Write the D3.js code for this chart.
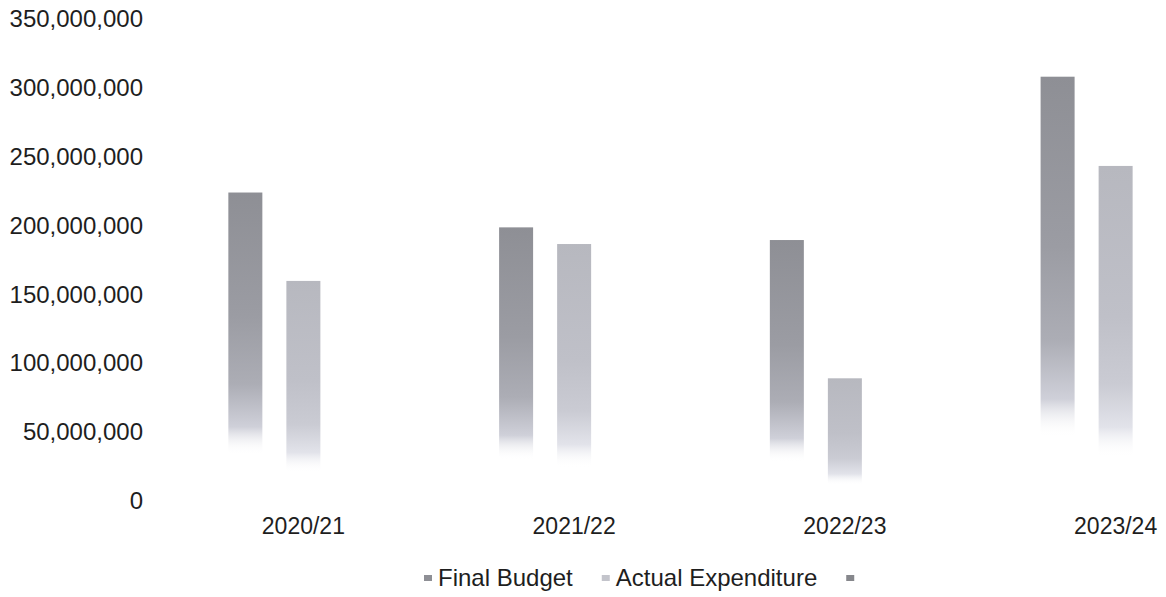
<!DOCTYPE html>
<html>
<head>
<meta charset="utf-8">
<script src="https://cdn.jsdelivr.net/npm/d3@7"></script>
<style>
  html, body { margin: 0; padding: 0; background: #fff; }
  svg { display: block; font-family: "Liberation Sans", Arial, sans-serif; }
</style>
</head>
<body>
<svg id="chart" width="1166" height="597"></svg>
<script>
// Budget vs. spend per financial year
const categories = ["2020/21", "2021/22", "2022/23", "2023/24"];
const seriesNames = ["Final Budget", "Actual Expenditure", ""];
const finalBudget = [224000000, 198700000, 189500000, 308100000];
const actualExpenditure = [159800000, 186600000, 89100000, 243300000];
const thirdSeries = [null, null, null, null];
const yTicks = [0, 50000000, 100000000, 150000000, 200000000, 250000000, 300000000, 350000000];

const seriesValues = [finalBudget, actualExpenditure, thirdSeries];

const svg = d3.select("#chart");

// Scales
const y = d3.scaleLinear().domain([0, 350000000]).range([501, 19]);
const x = d3.scaleBand().domain(categories).range([168, 1251]).paddingInner(0).paddingOuter(0);
const xInner = d3.scaleBand()
  .domain(d3.range(seriesNames.length))
  .range([0, x.bandwidth()])
  .paddingInner(0.414)
  .paddingOuter(1.04);

// Vertical fading fills, one per series
const defs = svg.append("defs");
const fills = [
  { id: "fill-budget", stops: [[0, "#8e8f95", 1], [0.4, "#9b9ca3", 1], [0.62, "#acadb5", 1], [0.76, "#cfd0d9", 1], [0.85, "#ffffff", 0], [1, "#ffffff", 0]] },
  { id: "fill-actual", stops: [[0, "#b7b8bf", 1], [0.45, "#bfc0c8", 1], [0.65, "#cacbd3", 1], [0.78, "#e2e3ea", 1], [0.87, "#ffffff", 0], [1, "#ffffff", 0]] },
  { id: "fill-third", stops: [[0, "#86878c", 1], [1, "#86878c", 1]] }
];
fills.forEach(f => {
  const g = defs.append("linearGradient")
    .attr("id", f.id)
    .attr("x1", 0).attr("y1", 0).attr("x2", 0).attr("y2", 1);
  f.stops.forEach(s => g.append("stop")
    .attr("offset", s[0])
    .attr("stop-color", s[1])
    .attr("stop-opacity", s[2]));
});
const swatchColors = ["#8e8f95", "#c3c4cb", "#86878c"];

// Y axis labels (no axis line, no gridlines)
const yAxis = d3.axisLeft(y)
  .tickValues(yTicks)
  .tickSize(0)
  .tickPadding(0)
  .tickFormat(d3.format(","));
const yG = svg.append("g")
  .attr("transform", "translate(143,0)")
  .call(yAxis);
yG.select(".domain").remove();
yG.selectAll("text")
  .attr("font-size", 24)
  .attr("fill", "#1e1e1e")
  .style("font-family", "'Liberation Sans', Arial, sans-serif");

// Category labels
const xAxis = d3.axisBottom(x).tickSize(0).tickPadding(0);
const xG = svg.append("g")
  .attr("transform", "translate(0,518)")
  .call(xAxis);
xG.select(".domain").remove();
xG.selectAll("text")
  .attr("font-size", 23)
  .attr("fill", "#1e1e1e")
  .style("font-family", "'Liberation Sans', Arial, sans-serif");

// Bars
const rows = [];
categories.forEach((c, i) => {
  seriesValues.forEach((vals, s) => {
    if (vals[i] != null) rows.push({ cat: c, s, v: vals[i] });
  });
});
svg.append("g").selectAll("rect")
  .data(rows)
  .join("rect")
  .attr("x", d => x(d.cat) + xInner(d.s))
  .attr("width", xInner.bandwidth())
  .attr("y", d => y(d.v))
  .attr("height", d => y(0) - y(d.v))
  .attr("fill", d => `url(#${fills[d.s].id})`);

// Legend
const legend = svg.append("g").attr("font-size", 24).attr("fill", "#1e1e1e");
const items = legend.selectAll("g.item")
  .data(seriesNames)
  .join("g")
  .attr("class", "item");
items.append("rect")
  .attr("width", 8).attr("height", 6)
  .attr("fill", (d, i) => swatchColors[i]);
items.append("text")
  .attr("x", 14)
  .attr("dy", "0.35em")
  .attr("y", 3)
  .text(d => d);
let cursor = 0;
const offsets = [];
items.each(function (d) {
  offsets.push(cursor);
  const tw = d ? this.querySelector("text").getComputedTextLength() : 0;
  cursor += 14 + tw + 29;
});
items.attr("transform", (d, i) => `translate(${424 + offsets[i]},575)`);
</script>
</body>
</html>
